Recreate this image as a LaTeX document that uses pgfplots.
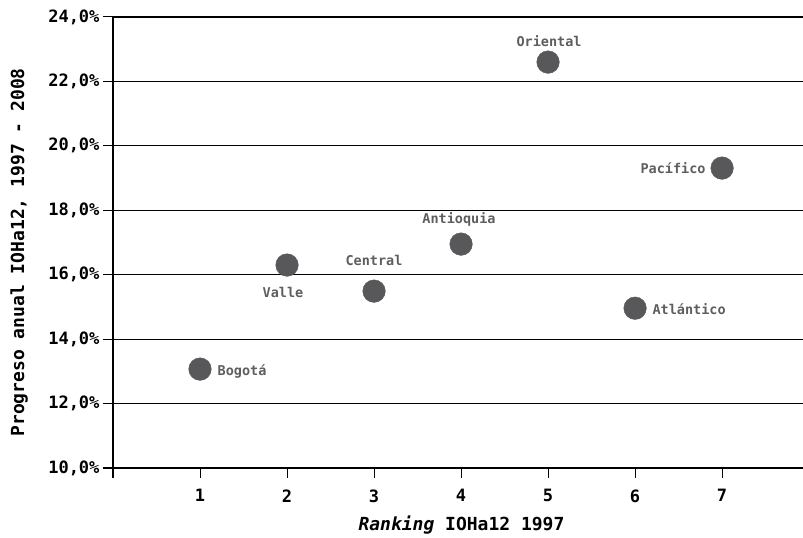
\documentclass[border=0pt]{standalone}
\usepackage{pgfplots}
\pgfplotsset{compat=1.18}
\usepackage{pgfplotstable}
\usepackage{fontspec}
\setmainfont{DejaVu Sans Mono}
\definecolor{punto}{HTML}{58585A}
\definecolor{etiq}{HTML}{5E5E5E}
\newcommand\diez{10,0\%}

% ranking 1997, progreso anual (%), desplazamiento de la etiqueta (pt)
\pgfplotstableread{
x y dx dy lab
1 13.07 42 -2 Bogotá
2 16.30 -4 -27 Valle
3 15.49 0 31 Central
4 16.95 -2 25 Antioquia
5 22.60 1 21 Oriental
6 14.96 54 -1 Atlántico
7 19.31 -49 0 Pacífico
}\datos

\begin{document}
\begin{tikzpicture}
\path[use as bounding box] (-113pt,-70pt) rectangle (690pt,468pt);
\begin{axis}[
  at={(0,0)}, anchor=south west,
  scale only axis, width=690pt, height=451pt,
  xmin=0, xmax=7.93, ymin=10, ymax=24,
  axis lines=left,
  axis line style={-, line width=2.2pt},
  xtick={1,...,7}, xticklabels={1,2,3,4,5,6,7},
  extra x ticks={0}, extra x tick labels={},
  extra x tick style={major tick style={line width=2.2pt}},
  ytick={12,14,...,24},
  yticklabels={{12,0\%},{14,0\%},{16,0\%},{18,0\%},{20,0\%},{22,0\%},{24,0\%}},
  extra y ticks={10}, extra y tick labels={\diez},
  extra y tick style={major tick style={line width=2.2pt}},
  tick align=outside, major tick length=10pt,
  tick style={black, line width=1pt},
  ymajorgrids, grid style={black, line width=1.2pt},
  tick label style={font=\fontsize{17}{17}\selectfont\bfseries},
  xticklabel style={yshift=-8pt},
  xlabel={\textit{Ranking} IOHa12 1997},
  ylabel={Progreso anual IOHa12, 1997 - 2008},
  label style={font=\fontsize{18}{18}\selectfont\bfseries},
  xlabel style={at={(axis description cs:0.505,-0.126)}, anchor=center},
  ylabel style={at={(axis description cs:-0.136,0.478)}, anchor=center},
  clip=false,
]
\addplot[only marks, mark=*, mark size=11.3pt,
  mark options={draw=punto, fill=punto},
  visualization depends on={\thisrow{dx}\as\labx},
  visualization depends on={\thisrow{dy}\as\laby},
  point meta=explicit symbolic,
  nodes near coords,
  nodes near coords style={anchor=center, xshift=\labx pt, yshift=\laby pt,
    text=etiq, font=\fontsize{13.5}{13.5}\selectfont\bfseries},
] table[x=x, y=y, meta=lab]{\datos};
\end{axis}
\end{tikzpicture}
\end{document}
